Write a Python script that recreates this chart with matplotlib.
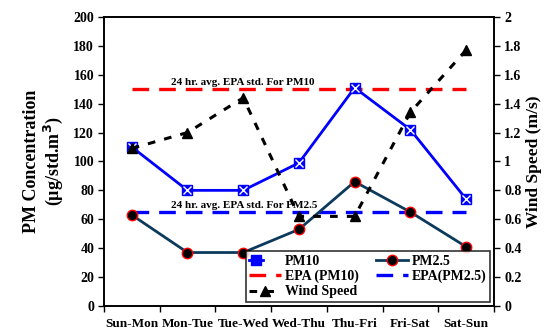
import numpy as np
import matplotlib.pyplot as plt
from matplotlib.legend_handler import HandlerTuple

plt.rcParams['font.family'] = ['Liberation Serif', 'DejaVu Serif']
plt.rcParams['font.weight'] = 'bold'

dias = ['Sun-Mon', 'Mon-Tue', 'Tue-Wed', 'Wed-Thu', 'Thu-Fri', 'Fri-Sat', 'Sat-Sun']
pm10 = [110, 80, 80, 99, 151, 122, 74]
pm25 = [63, 37, 37, 53, 86, 65, 41]
epa_pm10 = [150] * 7
epa_pm25 = [65] * 7
viento = [1.09, 1.20, 1.44, 0.62, 0.62, 1.34, 1.77]

x = np.arange(len(dias))

fig = plt.figure(figsize=(5.44, 3.31), dpi=100)
ax = fig.add_axes([0.191, 0.0755, 0.717, 0.8735])
ax2 = ax.twinx()

# lineas EPA
l3, = ax.plot(x, epa_pm10, color='#ff0000', lw=2.4, dashes=(5, 3), label='EPA (PM10)')
l4, = ax.plot(x, epa_pm25, color='#0000ff', lw=2.4, dashes=(5, 3), label='EPA(PM2.5)')

l1, = ax.plot(x, pm10, color='#0000ff', lw=2.0, marker='s', ms=7.5,
              mfc='#0000ff', mec='#0000ff', zorder=5)
l1x, = ax.plot(x, pm10, ls='none', marker='x', ms=5.5, mew=1.0, color='white', zorder=6)
l2, = ax.plot(x, pm25, color='#0b3a5c', lw=2.0, marker='o', ms=7.5,
              mfc='black', mec='red', mew=1.0, zorder=5, label='PM2.5')

l5, = ax2.plot(x, viento, color='black', lw=2.2, dashes=(2.5, 3), marker='^', ms=7.5,
               label='Wind Speed')

ax.text(0.70, 153, '24 hr. avg. EPA std. For PM10', fontsize=8, fontweight='bold')
ax.text(0.70, 68, '24 hr. avg. EPA std. For PM2.5', fontsize=8, fontweight='bold')

ax.set_xlim(-0.5, 6.5)
ax.set_ylim(0, 200)
ax2.set_ylim(0, 2)
ax.set_yticks(np.arange(0, 201, 20))
ax2.set_yticks(np.arange(0, 2.01, 0.2))
ax2.set_yticklabels(['0', '0.2', '0.4', '0.6', '0.8', '1', '1.2', '1.4', '1.6', '1.8', '2'])
ax.set_xticks(x)
ax.set_xticklabels(dias)
ax.set_xticks(np.arange(-0.5, 7, 1), minor=True)
ax.tick_params(axis='x', which='major', length=0, labelsize=9.5, pad=8.5)
ax.tick_params(axis='x', which='minor', direction='out', length=4, width=1)
ax.tick_params(axis='y', direction='out', length=4, width=1, labelsize=10, pad=3)
ax2.tick_params(axis='y', direction='out', length=4.5, width=1, labelsize=10, pad=3)

for a in (ax, ax2):
    for s in a.spines.values():
        s.set_linewidth(1.2)

ax.set_ylabel('PM Concentration\n(µg/std.m$^\\mathbf{3}$)', fontsize=13, fontweight='bold',
              labelpad=6, linespacing=1.1)
ax2.set_ylabel('Wind Speed (m/s)', fontsize=12.5, fontweight='bold', labelpad=3)

leg = ax2.legend([(l1, l1x), l3, l5, l2, l4],
                 ['PM10', 'EPA (PM10)', 'Wind Speed', 'PM2.5', 'EPA(PM2.5)'],
                 handler_map={tuple: HandlerTuple(ndivide=None)},
                 ncol=2, loc='lower right', bbox_to_anchor=(0.990, 0.014),
                 borderaxespad=0, fontsize=10, frameon=True, fancybox=False,
                 edgecolor='black', handlelength=2.3, handletextpad=0.3,
                 columnspacing=1.2, labelspacing=0.15, borderpad=0.25)
leg.get_frame().set_linewidth(1.2)

fig.savefig('out.png', dpi=100)
plt.close('all')
